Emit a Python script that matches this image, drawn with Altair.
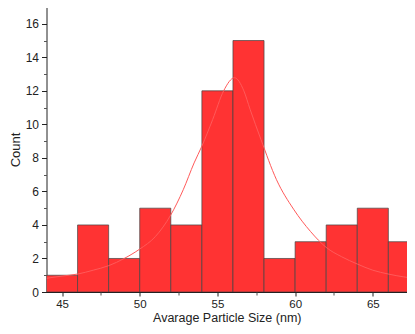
import altair as alt
import pandas as pd

# Histogram bins (nm) and counts
bin_start = [44, 46, 48, 50, 52, 54, 56, 58, 60, 62, 64, 66]
bin_end = [46, 48, 50, 52, 54, 56, 58, 60, 62, 64, 66, 68]
counts = [1, 4, 2, 5, 4, 12, 15, 2, 3, 4, 5, 3]

# Fitted curve
fit_x = [44, 45, 46, 47, 48, 49, 50, 51, 52, 52.8, 53.5, 54, 54.7, 55.4, 56.1,
         56.7, 57.1, 57.8, 58.8, 59.9, 61, 62, 63, 64, 65, 66, 67, 68]
fit_y = [0.82, 0.95, 1.07, 1.3, 1.57, 2.0, 2.56, 3.3, 4.6, 6.1, 7.7, 8.7, 10.3, 12.0, 12.78,
         12.0, 10.9, 9.1, 6.7, 4.94, 3.6, 2.66, 2.1, 1.67, 1.3, 1.07, 0.9, 0.78]

x_major = [45, 50, 55, 60, 65]
x_minor = [47.5, 52.5, 57.5, 62.5]
y_major = [0, 2, 4, 6, 8, 10, 12, 14, 16]
y_minor = [1, 3, 5, 7, 9, 11, 13, 15]

bars = pd.DataFrame({"start": bin_start, "end": bin_end, "count": counts})
fit = pd.DataFrame({"x": fit_x, "y": fit_y})

FONT = "Liberation Sans"
xscale = alt.Scale(domain=[44, 67.2], nice=False, zero=False)
yscale = alt.Scale(domain=[0, 17], nice=False, zero=False)

x_axis = alt.Axis(values=x_major, orient="bottom", tickSize=4, tickColor="#222", domainColor="#222",
                  labelFont=FONT, labelFontSize=11.5, labelColor="#222", labelPadding=2,
                  title="Avarage Particle Size (nm)", titleFont=FONT, titleFontSize=12.5,
                  titleFontWeight="normal", titleColor="#222", titlePadding=2, grid=False,
                  labelFlush=False)
y_axis = alt.Axis(values=y_major, orient="left", tickSize=5, tickColor="#222", domainColor="#222",
                  labelFont=FONT, labelFontSize=12, labelColor="#222", labelPadding=3,
                  title="Count", titleFont=FONT, titleFontSize=13, titleFontWeight="normal",
                  titleColor="#222", titlePadding=3, grid=False)
x_minor_axis = alt.Axis(values=x_minor, orient="bottom", tickSize=3, tickColor="#555", domain=False,
                        labels=False, title=None, grid=False)
y_minor_axis = alt.Axis(values=y_minor, orient="left", tickSize=3, tickColor="#555", domain=False,
                        labels=False, title=None, grid=False)

bar_layer = alt.Chart(bars).mark_bar(fill="#ff3333", stroke="#444", strokeWidth=0.7, clip=True).encode(
    x=alt.X("start:Q", scale=xscale, axis=x_axis),
    x2="end:Q",
    y=alt.Y("count:Q", scale=yscale, axis=y_axis),
    y2=alt.datum(0),
)

line_layer = alt.Chart(fit).mark_line(color="#ff5a5a", strokeWidth=1, interpolate="monotone", clip=True).encode(
    x=alt.X("x:Q", scale=xscale, axis=x_minor_axis),
    y=alt.Y("y:Q", scale=yscale, axis=y_minor_axis),
)

chart = alt.layer(bar_layer, line_layer).resolve_axis(x="independent", y="independent").properties(
    width=360.5,
    height=285,
    autosize=alt.AutoSizeParams(type="none"),
    padding={"left": 38.5, "top": -1, "right": 0, "bottom": 34},
).configure_view(stroke=None)

chart.save("out.html", embed_options={"renderer": "svg", "actions": False})
